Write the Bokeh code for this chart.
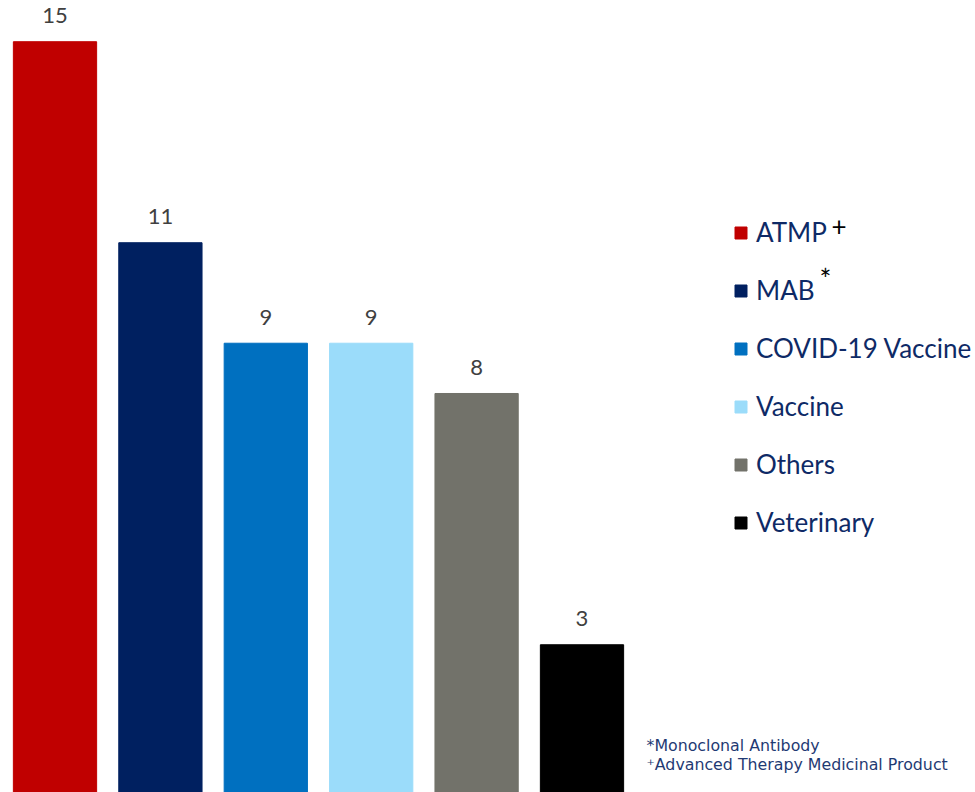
from bokeh.plotting import figure
from bokeh.models import ColumnDataSource, Range1d, Legend, LegendItem, Label
from bokeh.core.properties import value
from bokeh.embed import file_html
from bokeh.resources import INLINE

categories = ["ATMP", "MAB", "COVID-19 Vaccine", "Vaccine", "Others", "Veterinary"]
counts = [15, 11, 9, 9, 8, 3]
colors = ["#C00000", "#002060", "#0070C0", "#9BDCFA", "#72726A", "#000000"]
footnotes = ["*Monoclonal Antibody", "\u207aAdvanced Therapy Medicinal Product"]

W, H = 975, 792
pitch = 105.4
x0 = -54.5 / pitch
p = figure(width=W, height=H, output_backend="svg", toolbar_location=None,
           x_range=Range1d(x0, x0 + W / pitch), y_range=Range1d(0.06, 15.82),
           min_border=0, outline_line_color=None)
p.axis.visible = False
p.grid.visible = False
p.background_fill_color = "white"
p.border_fill_color = "white"

src = ColumnDataSource(dict(x=list(range(len(categories))), top=counts, color=colors,
                            cat=categories, lab=[str(c) for c in counts]))
r = p.vbar(x="x", top="top", bottom=0, width=0.79, color="color", source=src)
p.text(x="x", y="top", text="lab", source=src, text_align="center", text_baseline="alphabetic",
       y_offset=-26, text_font=value("Lato"), text_font_size="22px", text_color="#404040")

items = [LegendItem(label=c, renderers=[r], index=i) for i, c in enumerate(categories)]
leg = Legend(items=items, location=(733, 254), glyph_width=15, glyph_height=15,
             label_standoff=8, label_height=30, spacing=26, padding=0, margin=0,
             border_line_alpha=0, background_fill_alpha=0,
             label_text_font="Lato", label_text_font_size="26px", label_text_color="#0E2A66",
             label_text_baseline="middle")
p.add_layout(leg)

p.add_layout(Label(x=831, y=H - 235, x_units="screen", y_units="screen", text="+",
                   text_font="Lato", text_font_size="26px", text_color="#000000"))
p.add_layout(Label(x=819, y=H - 295, x_units="screen", y_units="screen", text="*",
                   text_font="Lato", text_font_size="28px", text_color="#000000"))

for i, t in enumerate(footnotes):
    p.add_layout(Label(x=646, y=H - 754 - i * 19, x_units="screen", y_units="screen", text=t,
                       text_font="DejaVu Sans", text_font_size="15.8px", text_color="#1F3A73"))

open("out.html", "w").write(file_html(p, INLINE))
